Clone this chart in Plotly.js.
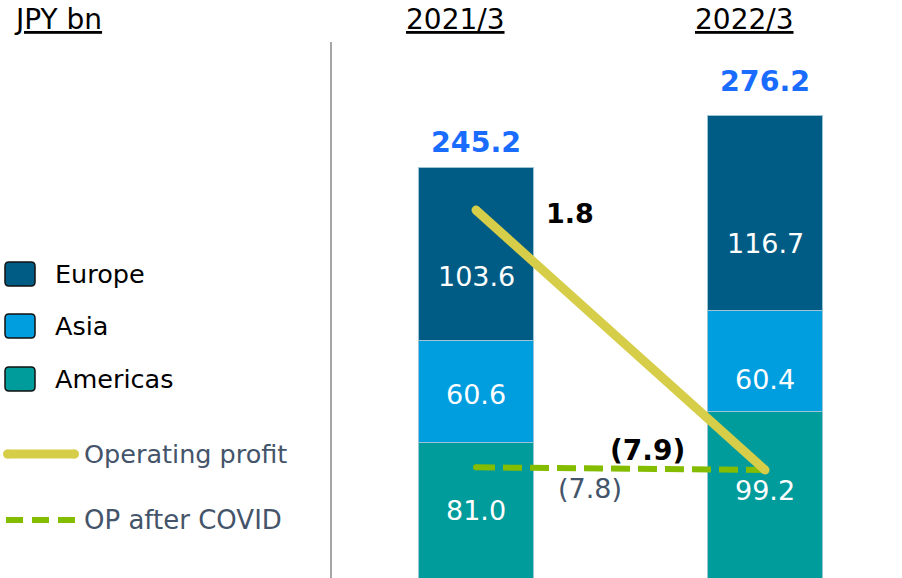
<!DOCTYPE html>
<html>
<head>
<meta charset="utf-8">
<script src="https://cdn.plot.ly/plotly-3.0.1.min.js"></script>
<style>html,body{margin:0;padding:0;background:#fff;}#chart{width:902px;height:578px;}</style>
</head>
<body>
<div id="chart"></div>
<script>
// ---- data ----
const categories = ['2021/3', '2022/3'];
const europe = [103.6, 116.7];
const asia = [60.6, 60.4];
const americas = [81.0, 99.2];
const totals = [245.2, 276.2];
const operatingProfit = [1.8, -7.9];
const opAfterCovid = [-7.8, -7.9];
const opLabels = ['1.8', '(7.9)'];
const covidLabel = '(7.8)';
const unitLabel = 'JPY bn';

// ---- style ----
const W = 902, H = 578;
const FONT = 'DejaVu Sans, Verdana, sans-serif';
const C_EU = '#005c84', C_AS = '#009ddf', C_AM = '#009b9b';
const C_OP = '#d6cd48', C_COV = '#84bc00', C_SLATE = '#44546a';
const PX = px => px / W, PY = py => 1 - py / H;

const barLine = {color: '#9cc3d6', width: 1};
const traces = [
  {type: 'bar', name: 'Americas', x: categories, y: americas, width: 0.4,
   marker: {color: C_AM, line: barLine}, hoverinfo: 'skip'},
  {type: 'bar', name: 'Asia', x: categories, y: asia, width: 0.4,
   marker: {color: C_AS, line: barLine}, hoverinfo: 'skip'},
  {type: 'bar', name: 'Europe', x: categories, y: europe, width: 0.4,
   marker: {color: C_EU, line: barLine}, hoverinfo: 'skip'},
  {type: 'scatter', mode: 'lines+markers', name: 'OP after COVID', x: categories, y: opAfterCovid,
   yaxis: 'y2', line: {color: C_COV, width: 6, dash: '19px,8px'},
   marker: {color: C_COV, size: 6}, hoverinfo: 'skip'},
  {type: 'scatter', mode: 'lines+markers', name: 'Operating profit', x: categories, y: operatingProfit,
   yaxis: 'y2', line: {color: C_OP, width: 9}, marker: {color: C_OP, size: 9}, hoverinfo: 'skip'}
];

const annotations = [];
// segment value labels
const segShift = {eu: [-23, -31], as: [-3, -18], am: [0, 4]};
categories.forEach((c, i) => {
  const segs = [
    {v: americas[i], base: 0, k: 'am'},
    {v: asia[i], base: americas[i], k: 'as'},
    {v: europe[i], base: americas[i] + asia[i], k: 'eu'}
  ];
  segs.forEach(s => annotations.push({
    x: c, y: s.base + s.v / 2, xref: 'x', yref: 'y', text: s.v.toFixed(1), showarrow: false,
    yshift: segShift[s.k][i], font: {family: FONT, size: 27, color: '#ffffff'}
  }));
});
// totals
const totShift = [25, 34];
categories.forEach((c, i) => annotations.push({
  x: c, y: totals[i], xref: 'x', yref: 'y', text: '<b>' + totals[i].toFixed(1) + '</b>', showarrow: false,
  yanchor: 'middle', yshift: totShift[i], font: {family: FONT, size: 28.5, color: '#1a6cff'}
}));
// headers
categories.forEach((c, i) => annotations.push({
  x: c, y: PY(20), xref: 'x', yref: 'paper', text: '<u>' + c + '</u>', showarrow: false,
  xshift: -21, yanchor: 'middle', font: {family: FONT, size: 28, color: '#000000'}
}));
annotations.push({x: PX(12), y: PY(20), xref: 'paper', yref: 'paper', xanchor: 'left', yanchor: 'middle',
  text: '<u>' + unitLabel + '</u>', showarrow: false, font: {family: FONT, size: 28, color: '#000000'}});
// OP labels
annotations.push({x: categories[0], y: operatingProfit[0], xref: 'x', yref: 'y2', text: '<b>' + opLabels[0] + '</b>',
  showarrow: false, xanchor: 'left', xshift: 68, yshift: -3, font: {family: FONT, size: 27, color: '#000'}});
annotations.push({x: categories[1], y: operatingProfit[1], xref: 'x', yref: 'y2', text: '<b>' + opLabels[1] + '</b>',
  showarrow: false, xshift: -118, yshift: 20, font: {family: FONT, size: 28, color: '#000'}});
annotations.push({x: categories[0], y: opAfterCovid[0], xref: 'x', yref: 'y2', text: covidLabel,
  showarrow: false, xshift: 114, yshift: -21, font: {family: FONT, size: 27, color: C_SLATE}});

// legend
const legendItems = [
  {name: 'Europe', color: C_EU, y: 274},
  {name: 'Asia', color: C_AS, y: 326},
  {name: 'Americas', color: C_AM, y: 379}
];
const shapes = [];
function rrect(x0, y0, x1, y1, r) {
  const X = PX, Y = PY;
  return `M${X(x0 + r)},${Y(y0)} L${X(x1 - r)},${Y(y0)} Q${X(x1)},${Y(y0)} ${X(x1)},${Y(y0 + r)} ` +
    `L${X(x1)},${Y(y1 - r)} Q${X(x1)},${Y(y1)} ${X(x1 - r)},${Y(y1)} L${X(x0 + r)},${Y(y1)} ` +
    `Q${X(x0)},${Y(y1)} ${X(x0)},${Y(y1 - r)} L${X(x0)},${Y(y0 + r)} Q${X(x0)},${Y(y0)} ${X(x0 + r)},${Y(y0)} Z`;
}
legendItems.forEach(it => {
  shapes.push({type: 'path', xref: 'paper', yref: 'paper', path: rrect(5, it.y - 12, 35, it.y + 12, 4),
    fillcolor: it.color, line: {color: '#111', width: 1.5}});
  annotations.push({x: PX(53), y: PY(it.y), xref: 'paper', yref: 'paper', xanchor: 'left', yanchor: 'middle',
    text: it.name, showarrow: false, font: {family: FONT, size: 25.5, color: '#000'}});
});
shapes.push({type: 'line', xref: 'paper', yref: 'paper', x0: PX(7), x1: PX(75), y0: PY(454), y1: PY(454),
  line: {color: C_OP, width: 9}});
shapes.push({type: 'circle', xref: 'paper', yref: 'paper', x0: PX(3), x1: PX(12), y0: PY(458.5), y1: PY(449.5),
  fillcolor: C_OP, line: {width: 0}});
shapes.push({type: 'circle', xref: 'paper', yref: 'paper', x0: PX(70), x1: PX(79), y0: PY(458.5), y1: PY(449.5),
  fillcolor: C_OP, line: {width: 0}});
shapes.push({type: 'line', xref: 'paper', yref: 'paper', x0: PX(6), x1: PX(77), y0: PY(520), y1: PY(520),
  line: {color: C_COV, width: 6, dash: '17px,9px'}});
annotations.push({x: PX(82), y: PY(454), xref: 'paper', yref: 'paper', xanchor: 'left', yanchor: 'middle',
  text: 'Operating profit', showarrow: false, font: {family: FONT, size: 25.5, color: C_SLATE}});
annotations.push({x: PX(82), y: PY(520), xref: 'paper', yref: 'paper', xanchor: 'left', yanchor: 'middle',
  text: 'OP after COVID', showarrow: false, font: {family: FONT, size: 26, color: C_SLATE}});
// divider
shapes.push({type: 'line', xref: 'paper', yref: 'paper', x0: PX(331), x1: PX(331), y0: PY(42), y1: 0,
  line: {color: '#a6a6a6', width: 2}});

const layout = {
  width: W, height: H, margin: {l: 0, r: 0, t: 0, b: 0},
  paper_bgcolor: '#fff', plot_bgcolor: '#fff', showlegend: false, barmode: 'stack',
  xaxis: {type: 'category', range: [-1.647, 1.474], visible: false, fixedrange: true},
  yaxis: {range: [0, 345], visible: false, fixedrange: true},
  yaxis2: {overlaying: 'y', range: [-11.93, 9.64], visible: false, fixedrange: true},
  annotations: annotations, shapes: shapes
};
Plotly.newPlot('chart', traces, layout, {staticPlot: true, displayModeBar: false});
</script>
</body>
</html>
